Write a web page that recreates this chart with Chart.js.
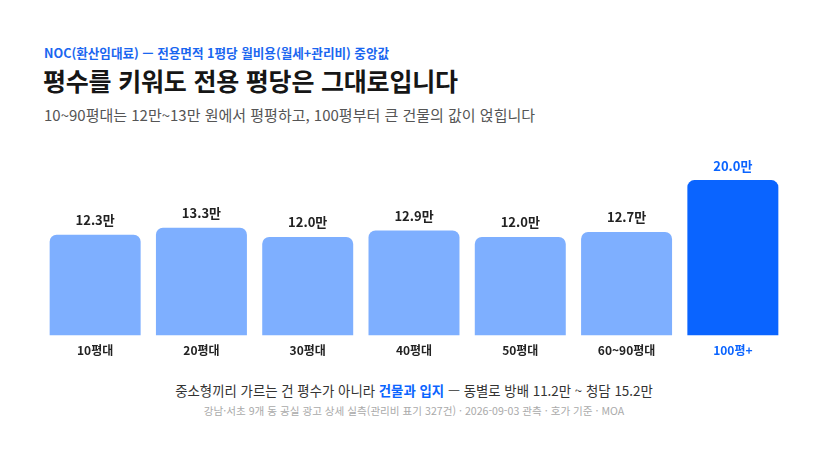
<!DOCTYPE html>
<html lang="ko">
<head>
<meta charset="utf-8">
<title>평수를 키워도 전용 평당은 그대로입니다</title>
<script src="https://cdn.jsdelivr.net/npm/chart.js@4"></script>
<style>
  html, body { margin: 0; padding: 0; background: #fff; }
  body { width: 828px; height: 466px; position: relative; overflow: hidden;
         font-family: "Noto Sans CJK KR", "Noto Sans", sans-serif; }
  .kicker { position: absolute; left: 44px; top: 43px; font-size: 12.6px; font-weight: 700; color: #1a66f0; }
  .title { position: absolute; left: 43px; top: 62px; font-size: 25px; font-weight: 700; color: #161616; letter-spacing: -0.2px; }
  .sub { position: absolute; left: 44px; top: 104px; font-size: 15px; color: #555; }
  .wrap { position: absolute; left: 0; top: 140px; width: 828px; height: 226px; }
  .note { position: absolute; left: 0; width: 828px; text-align: center; }
  .note1 { top: 380px; font-size: 13.4px; color: #333; }
  .note1 b { color: #0a64ff; }
  .note2 { top: 403px; font-size: 10.6px; color: #aaa; }
</style>
</head>
<body>
<div class="kicker">NOC(환산임대료) — 전용면적 1평당 월비용(월세+관리비) 중앙값</div>
<div class="title">평수를 키워도 전용 평당은 그대로입니다</div>
<div class="sub">10~90평대는 12만~13만 원에서 평평하고, 100평부터 큰 건물의 값이 얹힙니다</div>
<div class="wrap"><canvas id="myChart"></canvas></div>
<div class="note note1">중소형끼리 가르는 건 평수가 아니라 <b>건물과 입지</b> — 동별로 방배 11.2만 ~ 청담 15.2만</div>
<div class="note note2">강남·서초 9개 동 공실 광고 상세 실측(관리비 표기 327건) · 2026-09-03 관측 · 호가 기준 · MOA</div>
<script>
// size bands and median NOC per pyeong (만 원)
const categories = ['10평대', '20평대', '30평대', '40평대', '50평대', '60~90평대', '100평+'];
const medianNoc = [12.3, 13.3, 12.0, 12.9, 12.0, 12.7, 20.0];
const highlightIndex = 6;

const lightBlue = '#7eafff';
const strongBlue = '#0a64ff';

// value labels on top of each bar
const valueLabels = {
    id: 'valueLabels',
    afterDatasetsDraw(chart) {
        const ctx = chart.ctx;
        const meta = chart.getDatasetMeta(0);
        ctx.save();
        ctx.font = '700 13px "Noto Sans CJK KR", sans-serif';
        ctx.textAlign = 'center';
        ctx.textBaseline = 'bottom';
        meta.data.forEach((bar, i) => {
            ctx.fillStyle = i === highlightIndex ? strongBlue : '#222';
            ctx.fillText(medianNoc[i].toFixed(1) + '만', bar.x, bar.y - 8);
        });
        ctx.restore();
    }
};

const ctx = document.getElementById('myChart').getContext('2d');
const chart = new Chart(ctx, {
    type: 'bar',
    data: {
        labels: categories,
        datasets: [{
            data: medianNoc,
            base: -1.9,
            backgroundColor: medianNoc.map((v, i) => i === highlightIndex ? strongBlue : lightBlue),
            borderRadius: 7,
            borderSkipped: 'start',
            categoryPercentage: 1,
            barPercentage: 0.856
        }]
    },
    options: {
        responsive: true,
        maintainAspectRatio: false,
        animation: false,
        layout: { padding: { left: 42, right: 42, top: 0, bottom: 0 } },
        plugins: {
            legend: { display: false },
            tooltip: { enabled: false }
        },
        scales: {
            x: {
                grid: { display: false, drawTicks: false },
                border: { display: false },
                ticks: {
                    padding: 8,
                    font: { family: '"Noto Sans CJK KR", sans-serif', size: 12, weight: '700' },
                    color: c => c.index === highlightIndex ? strongBlue : '#222'
                }
            },
            y: {
                display: false,
                min: -1.9,
                max: 25.65
            }
        }
    },
    plugins: [valueLabels]
});
</script>
</body>
</html>
